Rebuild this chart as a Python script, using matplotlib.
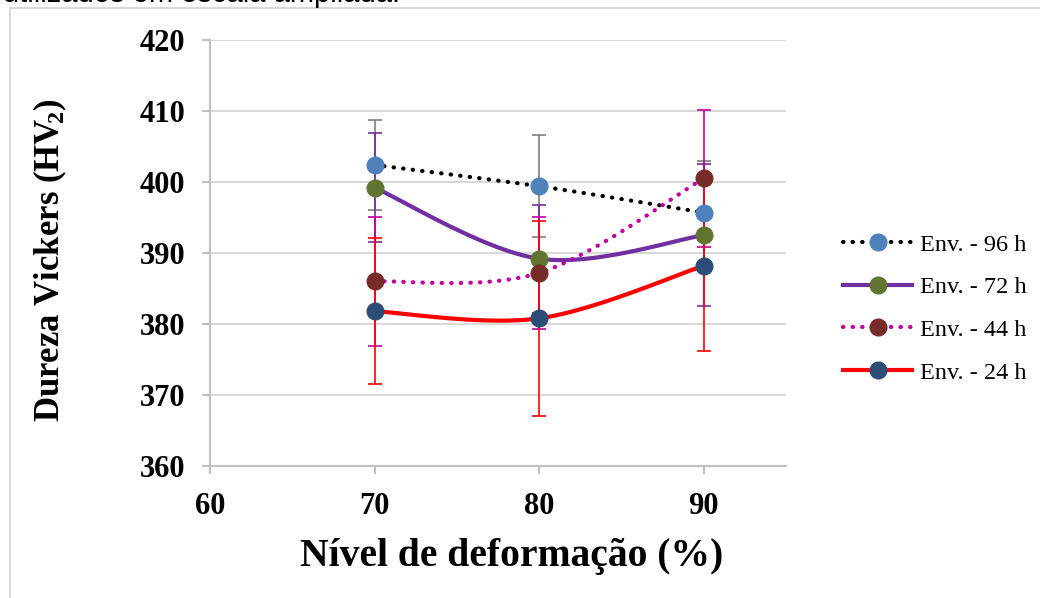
import numpy as np
import matplotlib
matplotlib.use("Agg")
import matplotlib.pyplot as plt
from matplotlib.lines import Line2D

plt.rcParams['font.family'] = ['Liberation Serif', 'DejaVu Serif']
plt.rcParams['mathtext.fontset'] = 'custom'
plt.rcParams['mathtext.rm'] = 'Liberation Serif:bold'
plt.rcParams['mathtext.it'] = 'Liberation Serif:bold'
plt.rcParams['mathtext.bf'] = 'Liberation Serif:bold'

# nível de deformação (%)
deformacao = [70, 80, 90]

# dureza média e desvio por tempo de envelhecimento
hv_96 = [402.4, 399.4, 395.7]
err_96 = [6.3, 7.2, 7.2]
hv_72 = [399.2, 389.2, 392.5]
err_72 = [7.7, 7.6, 10.0]
hv_44 = [386.0, 387.2, 400.5]
err_44 = [9.1, 7.9, 9.6]
hv_24 = [381.8, 380.8, 388.2]
err_24 = [10.3, 13.7, 12.0]

labels = ['Env. - 96 h', 'Env. - 72 h', 'Env. - 44 h', 'Env. - 24 h']


def suave(x, y, n=40):
    # curva suavizada estilo Excel (bezier com tensao 1/6)
    x = np.asarray(x, float)
    y = np.asarray(y, float)
    px, py = [], []
    k = len(x)
    for i in range(k - 1):
        a = max(i - 1, 0)
        b = min(i + 2, k - 1)
        c1x = x[i] + (x[i + 1] - x[a]) / 6
        c1y = y[i] + (y[i + 1] - y[a]) / 6
        c2x = x[i + 1] - (x[b] - x[i]) / 6
        c2y = y[i + 1] - (y[b] - y[i]) / 6
        t = np.linspace(0, 1, n)
        px.extend((1 - t) ** 3 * x[i] + 3 * (1 - t) ** 2 * t * c1x + 3 * (1 - t) * t ** 2 * c2x + t ** 3 * x[i + 1])
        py.extend((1 - t) ** 3 * y[i] + 3 * (1 - t) ** 2 * t * c1y + 3 * (1 - t) * t ** 2 * c2y + t ** 3 * y[i + 1])
    return px, py


fig = plt.figure(figsize=(10.4, 5.98), dpi=100)
ax = fig.add_axes([0.2019, 0.2207, 0.5539, 0.7124])

series = [
    (hv_96, err_96, 'black', '#4F81BD', '#7F7F7F', (0, (0.1, 2.2))),
    (hv_72, err_72, '#7030A0', '#5F7530', '#7030A0', '-'),
    (hv_44, err_44, '#C000A0', '#772C2A', '#C000A0', (0, (0.1, 2.2))),
    (hv_24, err_24, '#FF0000', '#2C4D75', '#FF0000', '-'),
]

handles = []
for (hv, err, lc, mc, ec, ls), lab in zip(series, labels):
    ax.errorbar(deformacao, hv, yerr=err, fmt='none', ecolor=ec,
                elinewidth=1.2, capsize=5, capthick=1.2, zorder=2)
for (hv, err, lc, mc, ec, ls), lab in zip(series, labels):
    sx, sy = suave(deformacao, hv)
    ax.plot(sx, sy, color=lc, lw=3, linestyle=ls,
            solid_capstyle='round', dash_capstyle='round', zorder=3)
    h = Line2D([], [], color=lc, lw=3, linestyle=ls, dash_capstyle='round',
               marker='o', markersize=12, markerfacecolor=mc, markeredgecolor=mc)
    handles.append(h)
for (hv, err, lc, mc, ec, ls) in series:
    ax.plot(deformacao, hv, 'o', markersize=12, color=mc, zorder=4)

ax.set_xlim(60, 95)
ax.set_ylim(360, 420)
ax.set_xticks([60, 70, 80, 90])
ax.set_yticks(range(360, 421, 10))
ax.grid(axis='y', color='#D9D9D9', lw=1.5)
ax.set_axisbelow(True)
for s in ['top', 'right']:
    ax.spines[s].set_visible(False)
for s in ['left', 'bottom']:
    ax.spines[s].set_color('#BFBFBF')
    ax.spines[s].set_linewidth(1.5)
ax.tick_params(axis='both', direction='out', length=6, width=1.5, color='#BFBFBF',
               labelsize=22)
ax.tick_params(axis='y', pad=12)
ax.tick_params(axis='x', pad=13)
for t in ax.get_xticklabels() + ax.get_yticklabels():
    t.set_fontweight('bold')

ax.set_xlabel('Nível de deformação (%)', fontsize=28.5, fontweight='bold')
ax.set_ylabel(r'Dureza Vickers (HV$\!_2$)', fontsize=25, fontweight='bold')
ax.xaxis.set_label_coords(0.524, -0.17)
ax.yaxis.set_label_coords(-0.245, 0.484)

fig.legend(handles=handles, labels=labels, loc='center left',
           bbox_to_anchor=(0.8106, 0.484), frameon=False, fontsize=17.5,
           handlelength=2.85, handletextpad=0.3, labelspacing=0.85,
           borderpad=0, borderaxespad=0)

# borda do grafico e trecho da legenda do documento
fig.add_artist(Line2D([0.0096, 0.0096], [0.0, 0.987], transform=fig.transFigure,
                      color='#D9D9D9', lw=1.5))
fig.add_artist(Line2D([0.0096, 1.0], [0.987, 0.987], transform=fig.transFigure,
                      color='#D9D9D9', lw=1.5))
fig.text(0.385, 1 - 2.5 / 598, 'utilizados em escala ampliada.', ha='right',
         va='baseline', fontsize=21, family='Liberation Sans', color='black')

fig.savefig('out.png', dpi=100)
